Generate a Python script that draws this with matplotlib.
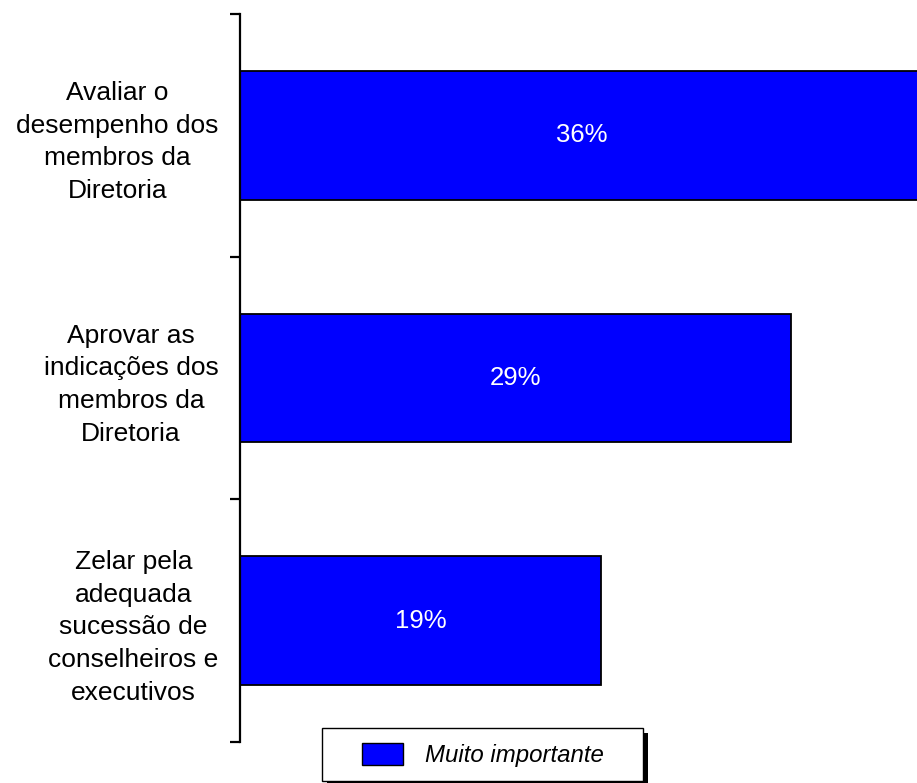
import matplotlib.pyplot as plt
from matplotlib.patches import Rectangle, Patch

plt.rcParams['font.family'] = ['Liberation Sans', 'DejaVu Sans']

categorias = ["Avaliar o\ndesempenho dos\nmembros da\nDiretoria",
              "Aprovar as\nindicações dos\nmembros da\nDiretoria",
              "Zelar pela\nadequada\nsucessão de\nconselheiros e\nexecutivos"]
valores = [36, 29, 19]
rotulos = ["36%", "29%", "19%"]
serie = "Muito importante"
cor = "#0000FF"

W, H = 917, 783
fig = plt.figure(figsize=(W / 100, H / 100), dpi=100)
ax = fig.add_axes([240 / W, 1 - 742 / H, 760 / W, (742 - 14) / H])

pos = list(range(len(categorias)))
ax.barh(pos, valores, height=0.53, color=cor, edgecolor="black", linewidth=1.3)
for p, v, r in zip(pos, valores, rotulos):
    ax.text(v / 2, p, r, color="white", fontsize=18.5, ha="center", va="center")

ax.set_xlim(0, 40)
ax.set_ylim(len(categorias) - 0.5, -0.5)
for s in ["top", "right", "bottom"]:
    ax.spines[s].set_visible(False)
ax.spines["left"].set_linewidth(1.6)
ax.set_xticks([])

ax.set_yticks([p - 0.5 for p in pos] + [len(pos) - 0.5])
ax.set_yticklabels([])
ax.tick_params(axis="y", which="major", length=7.5, width=1.6)
ax.set_yticks(pos, minor=True)
ax.set_yticklabels(categorias, minor=True, fontsize=19, linespacing=1.45,
                   multialignment="center")
ax.tick_params(axis="y", which="minor", length=0, pad=15.5)

# legend box with black shadow
fig.patches.append(Rectangle((327 / W, 1 - 786 / H), 321 / W, 53 / H,
                             transform=fig.transFigure, facecolor="black",
                             edgecolor="none", zorder=1))
fig.patches.append(Rectangle((322 / W, 1 - 781 / H), 321 / W, 53 / H,
                             transform=fig.transFigure, facecolor="white",
                             edgecolor="black", linewidth=1.0, zorder=2))
leg = fig.legend(handles=[Patch(facecolor=cor, edgecolor="black", linewidth=1.0, label=serie)],
                 loc="center", bbox_to_anchor=(483 / W, 1 - 755 / H), frameon=False,
                 prop={"size": 17.3, "style": "italic"}, handlelength=1.7,
                 handleheight=1.0, handletextpad=0.95)
leg.set_zorder(3)

fig.savefig("out.png", dpi=100)
